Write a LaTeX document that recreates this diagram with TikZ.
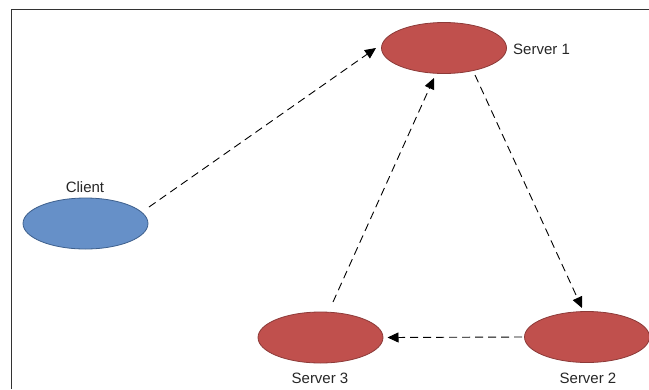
\documentclass[tikz,border=0pt]{standalone}
\usepackage{fontspec}
\setmainfont{Liberation Sans}
\usetikzlibrary{shapes.geometric,arrows.meta,calc}
\definecolor{srvfill}{HTML}{C0504D}
\definecolor{srvdraw}{HTML}{8C3A38}
\definecolor{clifill}{HTML}{6690C8}
\definecolor{clidraw}{HTML}{3D5F8C}
\definecolor{framecol}{HTML}{333333}
\tikzset{
  server/.style={ellipse,fill=srvfill,draw=srvdraw,line width=0.8pt,minimum width=125pt,minimum height=51pt,inner sep=0pt},
  client/.style={ellipse,fill=clifill,draw=clidraw,line width=0.8pt,minimum width=125pt,minimum height=51pt,inner sep=0pt},
  lbl/.style={font=\fontsize{15}{18}\selectfont,inner sep=0pt,text=black!85},
  conn/.style={line width=0.9pt,dash pattern=on 8pt off 5pt,-{Triangle[length=11pt,width=10pt]}}
}
\begin{document}
\begin{tikzpicture}[x=1pt,y=-1pt]
\useasboundingbox (0,0) rectangle (649,389);
\draw[framecol,line width=1pt] (11,389) -- (11,9.5) -- (649,9.5);
\node[client] (client) at (85.5,223.5) {};
\node[server] (s1) at (444,48) {};
\node[server] (s2) at (587,337) {};
\node[server] (s3) at (320.5,337.5) {};
\node[lbl,anchor=base] (lclient) at (85,192) {Client};
\node[lbl,anchor=base west] (ls1) at (513,54) {Server 1};
\node[lbl,anchor=base] (ls2) at (588,383) {Server 2};
\node[lbl,anchor=base] (ls3) at (320,383) {Server 3};
\draw[conn] ($(client)+(63.5,-16.5)$) -- ($(s1)+(-68,0)$);
\draw[conn] ($(s3)+(12.5,-35.5)$) -- ($(s1)+(-10,30)$);
\draw[conn] ($(s1)+(31,27)$) -- ($(s2)+(-5,-29)$);
\draw[conn] ($(s2)+(-65,0)$) -- ($(s3)+(67,0)$);
\end{tikzpicture}
\end{document}
